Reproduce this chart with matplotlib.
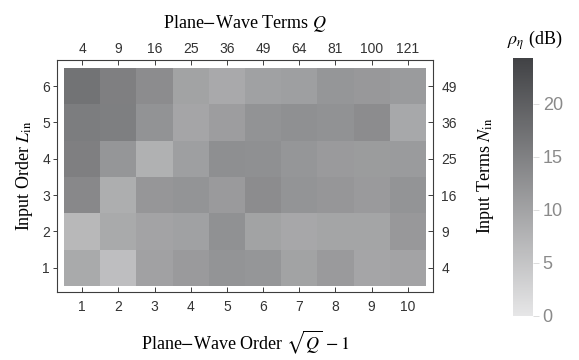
import numpy as np
import matplotlib

matplotlib.use("Agg")
import matplotlib.pyplot as plt
from matplotlib.colors import LinearSegmentedColormap

plt.rcParams["mathtext.fontset"] = "stix"

# plane-wave order (columns) and input order (rows)
orders = [1, 2, 3, 4, 5, 6, 7, 8, 9, 10]
q_terms = ["4", "9", "16", "25", "36", "49", "64", "81", "100", "121"]
input_orders = [1, 2, 3, 4, 5, 6]
n_terms = ["4", "9", "16", "25", "36", "49"]

# rho_eta in dB, one list per input order L_in = 1..6
rho_l1 = [8.9, 5.8, 10.1, 11.2, 12.1, 11.8, 9.9, 11.2, 9.5, 9.8]
rho_l2 = [6.8, 8.9, 9.8, 10.2, 12.6, 9.9, 9.3, 9.6, 9.6, 11.4]
rho_l3 = [13.8, 8.3, 11.7, 12.1, 11.2, 13.2, 12.1, 11.7, 11.2, 12.1]
rho_l4 = [15.1, 11.8, 7.8, 10.5, 12.9, 12.7, 11.8, 11.2, 11.0, 11.1]
rho_l5 = [15.5, 15.2, 12.3, 9.5, 10.7, 12.3, 12.7, 12.4, 13.2, 9.2]
rho_l6 = [16.9, 15.1, 13.2, 9.9, 9.0, 10.2, 10.5, 11.8, 11.4, 11.1]

cbar_ticks = [0, 5, 10, 15, 20]
vmax = 24.3

SERIF = "Liberation Serif"
SANS = "Liberation Sans"
FRAME = "#3d3d3d"

grid = np.array([rho_l1, rho_l2, rho_l3, rho_l4, rho_l5, rho_l6])
cmap = LinearSegmentedColormap.from_list("graytones", ["#e6e6e7", "#414245"])

fig = plt.figure(figsize=(5.79, 3.6), dpi=100)
ax = fig.add_axes([57 / 579, 1 - 292 / 360, 376 / 579, 232 / 360])

im = ax.imshow(
    grid,
    origin="lower",
    extent=(orders[0] - 0.5, orders[-1] + 0.5, input_orders[0] - 0.5, input_orders[-1] + 0.5),
    aspect="auto",
    cmap=cmap,
    vmin=0,
    vmax=vmax,
    interpolation="nearest",
)
ax.set_xlim(0.3, 10.7)
ax.set_ylim(0.33, 6.72)

for spine in ax.spines.values():
    spine.set_color(FRAME)
    spine.set_linewidth(0.8)

ax.set_xticks(orders, [str(o) for o in orders])
ax.set_yticks(input_orders, [str(o) for o in input_orders])
ax.tick_params(axis="x", direction="in", length=3.5, width=0.7, color=FRAME,
               labelsize=10, labelcolor="#333333", pad=6)
ax.tick_params(axis="y", direction="out", length=3, width=0.7, color=FRAME,
               labelsize=10, labelcolor="#333333", pad=2)
for lbl in ax.get_xticklabels() + ax.get_yticklabels():
    lbl.set_family(SANS)

top = ax.secondary_xaxis("top")
top.set_xticks(orders, q_terms)
top.tick_params(direction="in", length=3.5, width=0.7, color=FRAME,
                labelsize=10, labelcolor="#333333", pad=3)
right = ax.secondary_yaxis("right")
right.set_yticks(input_orders, n_terms)
right.tick_params(direction="in", length=3.5, width=0.7, color=FRAME,
                  labelsize=10, labelcolor="#333333", pad=6)
for sec in (top, right):
    sec.spines[:].set_visible(False)
for lbl in top.get_xticklabels() + right.get_yticklabels():
    lbl.set_family(SANS)

ax.set_xlabel(r"Plane$-$Wave Order $\sqrt{Q}\,-1$", family=SERIF, fontsize=13, labelpad=10)
ax.set_ylabel(r"Input Order $L_{\mathrm{in}}$", family=SERIF, fontsize=13, labelpad=5)
top.set_xlabel(r"Plane$-$Wave Terms $Q$", family=SERIF, fontsize=13, labelpad=10)
right.set_ylabel(r"Input Terms $N_{\mathrm{in}}$", family=SERIF, fontsize=13, labelpad=13)

cax = fig.add_axes([513 / 579, 1 - 316 / 360, 20 / 579, 258 / 360])
cbar = fig.colorbar(im, cax=cax, ticks=cbar_ticks)
cbar.outline.set_visible(False)
cax.tick_params(length=4, width=0.7, color="#dcdcdc", labelsize=13,
                labelcolor="#8a8a8a", pad=3)
for lbl in cax.get_yticklabels():
    lbl.set_family(SANS)
fig.text(535 / 579, 1 - 40 / 360, r"$\rho_\eta$ (dB)", family=SERIF, fontsize=13,
         ha="center", va="center")

fig.savefig("out.png", dpi=100)
